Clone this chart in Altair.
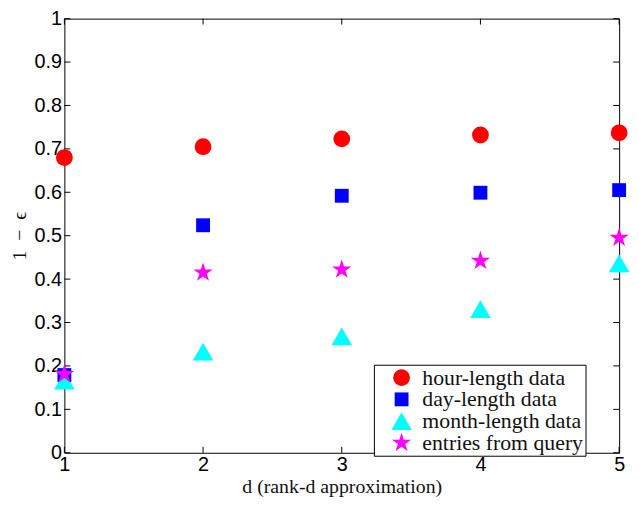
import altair as alt
import pandas as pd

d = [1, 2, 3, 4, 5]
hour = [0.680, 0.705, 0.723, 0.732, 0.737]
day = [0.179, 0.524, 0.592, 0.599, 0.605]
month = [0.166, 0.233, 0.268, 0.331, 0.436]
query = [0.181, 0.415, 0.422, 0.442, 0.495]
series = ["hour-length data", "day-length data", "month-length data", "entries from query"]
colors = ["#ff0000", "#0000ff", "#00ffff", "#ff00ff"]
STAR = ("M0,-1L0.2245,-0.309L0.9511,-0.309L0.3633,0.118L0.5878,0.809L0,0.382"
        "L-0.5878,0.809L-0.3633,0.118L-0.9511,-0.309L-0.2245,-0.309Z")
shapes = ["circle", "square", "triangle-up", STAR]
sizes = [289, 196, 430, 420]
xticks = [1, 2, 3, 4, 5]
yticks = [0, 0.1, 0.2, 0.3, 0.4, 0.5, 0.6, 0.7, 0.8, 0.9, 1]

W, H = 561, 439
TL = 6
SERIF = "Liberation Serif"
SANS = "Liberation Sans"

rows = []
for name, vals in zip(series, [hour, day, month, query]):
    for xi, yi in zip(d, vals):
        rows.append({"d": xi, "v": yi, "series": name})
df = pd.DataFrame(rows)
df["order"] = df["series"].map({s: i for i, s in enumerate(series)})

xs = alt.Scale(domain=[1, 5], nice=False)
ys = alt.Scale(domain=[0, 1], nice=False)

points = alt.Chart(df).mark_point(filled=True, opacity=1, strokeWidth=0).encode(
    x=alt.X("d:Q", scale=xs,
            axis=alt.Axis(values=xticks, format="d", title="d (rank-d approximation)",
                          grid=False, ticks=False, domain=False, labelPadding=2,
                          labelFlush=False, titlePadding=2, titleFontSize=20)),
    y=alt.Y("v:Q", scale=ys,
            axis=alt.Axis(values=yticks, format="~g", title="1\u2002−\u2002ϵ",
                          grid=False, ticks=False, domain=False, labelPadding=3,
                          labelFlush=False, titlePadding=5, titleFontSize=20)),
    color=alt.Color("series:N", scale=alt.Scale(domain=series, range=colors),
                    legend=alt.Legend(title=None, orient="none", legendX=313, legendY=350,
                                      strokeColor="black", fillColor="white", padding=2,
                                      symbolOffset=15, labelOffset=10, rowPadding=-2,
                                      labelFont=SERIF, labelFontSize=22, labelLimit=400,
                                      labelColor="#111", symbolStrokeWidth=0,
                                      symbolOpacity=1)),
    shape=alt.Shape("series:N", scale=alt.Scale(domain=series, range=shapes)),
    size=alt.Size("series:N", scale=alt.Scale(type="ordinal", domain=series, range=sizes)),
    order=alt.Order("order:Q"),
)

ytk = pd.DataFrame({"t": yticks})
xtk = pd.DataFrame({"t": xticks})

yl = alt.Chart(ytk).mark_rule(color="black", strokeWidth=1).encode(
    y=alt.Y("t:Q", scale=ys), x=alt.value(0), x2=alt.value(TL))
yr = alt.Chart(ytk).mark_rule(color="black", strokeWidth=1).encode(
    y=alt.Y("t:Q", scale=ys), x=alt.value(W - TL), x2=alt.value(W))
xb = alt.Chart(xtk).mark_rule(color="black", strokeWidth=1).encode(
    x=alt.X("t:Q", scale=xs), y=alt.value(H - TL), y2=alt.value(H))
xt = alt.Chart(xtk).mark_rule(color="black", strokeWidth=1).encode(
    x=alt.X("t:Q", scale=xs), y=alt.value(0), y2=alt.value(TL))

chart = alt.layer(yl, yr, xb, xt, points).properties(
    width=W, height=H,
    autosize=alt.AutoSizeParams(type="none"),
    padding={"left": 57, "top": 8, "right": 12, "bottom": 44},
).configure_view(stroke="black", strokeWidth=1).configure_axis(
    labelFont=SANS, labelFontSize=20, labelColor="black",
    titleFont=SERIF, titleFontWeight="normal", titleColor="#111",
).configure_legend(labelFont=SERIF, labelFontSize=22, labelLimit=400)

chart.save("out.html", embed_options={"renderer": "svg", "actions": False})
